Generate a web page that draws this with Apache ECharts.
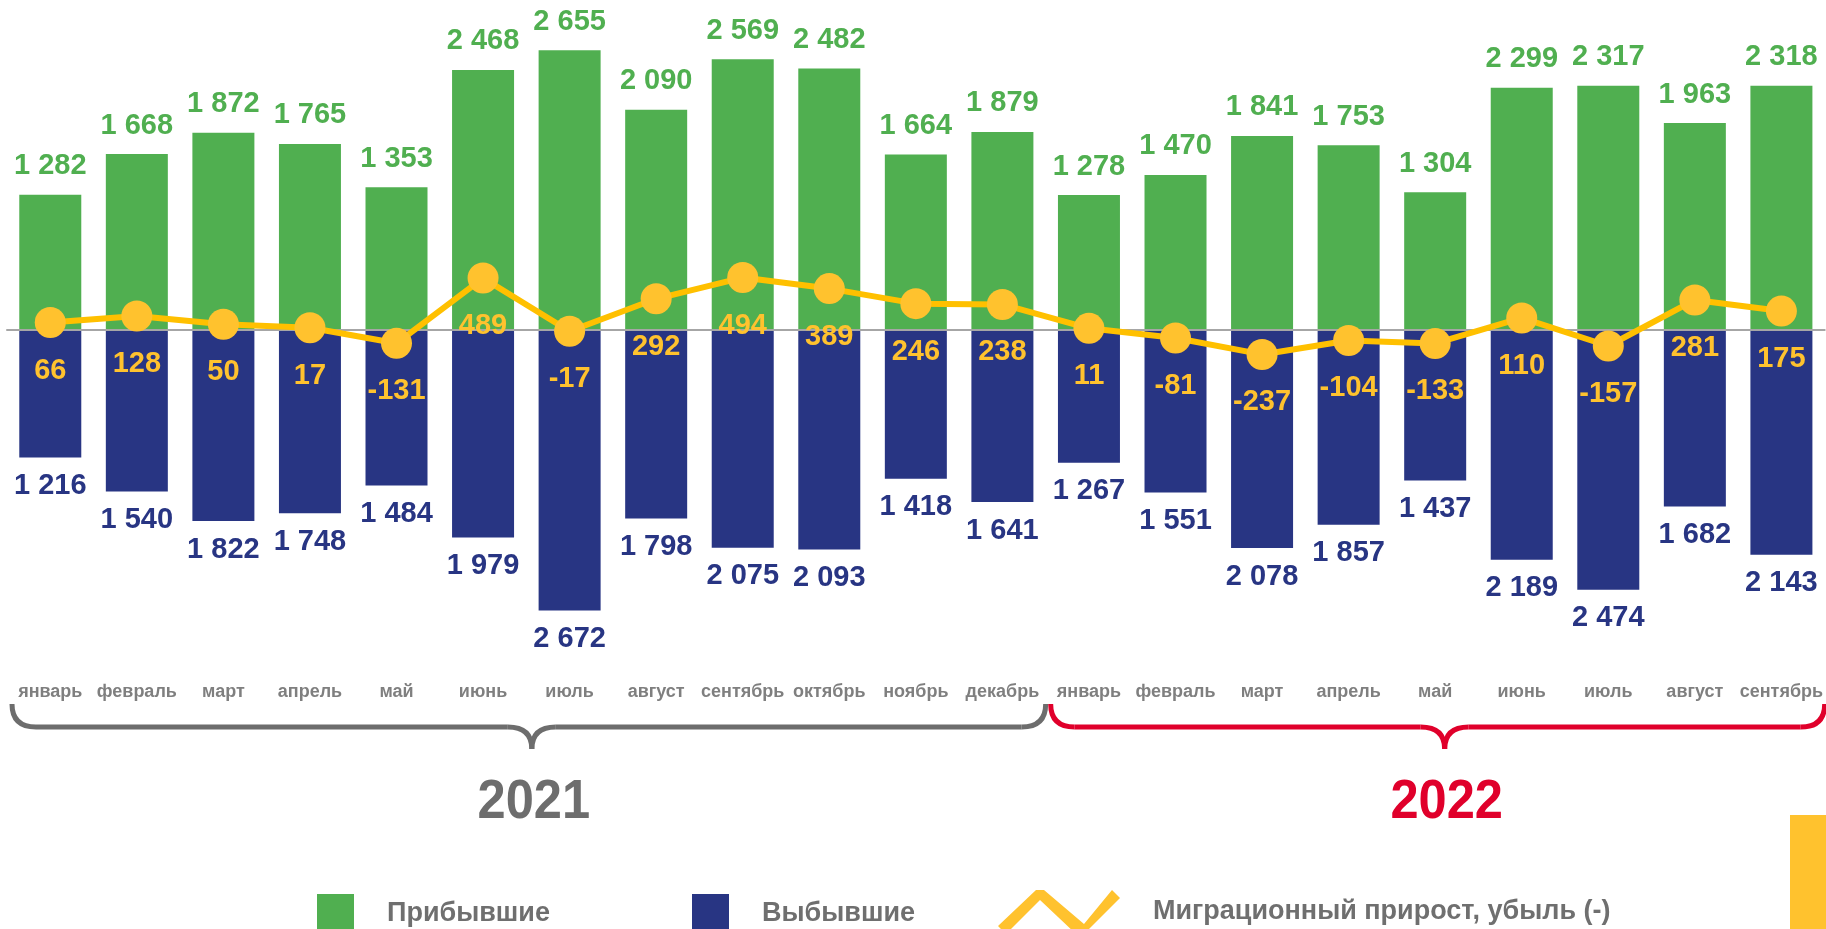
<!DOCTYPE html>
<html>
<head>
<meta charset="utf-8">
<title>Миграция</title>
<script src="https://cdn.jsdelivr.net/npm/echarts@6/dist/echarts.min.js"></script>
<style>
    html, body { margin: 0; padding: 0; background: #fff; }
    #main { width: 1826px; height: 929px; }
</style>
</head>
<body>
<div id="main"></div>
<script>
var months = ['январь', 'февраль', 'март', 'апрель', 'май', 'июнь', 'июль', 'август', 'сентябрь', 'октябрь', 'ноябрь', 'декабрь',
    'январь', 'февраль', 'март', 'апрель', 'май', 'июнь', 'июль', 'август', 'сентябрь'];
var arrived = [1282, 1668, 1872, 1765, 1353, 2468, 2655, 2090, 2569, 2482, 1664, 1879,
    1278, 1470, 1841, 1753, 1304, 2299, 2317, 1963, 2318];
var departed = [1216, 1540, 1822, 1748, 1484, 1979, 2672, 1798, 2075, 2093, 1418, 1641,
    1267, 1551, 2078, 1857, 1437, 2189, 2474, 1682, 2143];
var balance = [66, 128, 50, 17, -131, 489, -17, 292, 494, 389, 246, 238,
    11, -81, -237, -104, -133, 110, -157, 281, 175];
var years = ['2021', '2022'];
var yearSpan = [[0, 11], [12, 20]]; // индексы месяцев каждого года
var names = ['Прибывшие', 'Выбывшие', 'Миграционный прирост, убыль (-)'];

var GREEN = '#50AF50', BLUE = '#283583', YELLOW = '#FFC000', DOT = '#FFC22E';
var FONT = "'Liberation Sans', Arial, sans-serif";
var zigzag = 'path://M0,36 L38,0 L46,0 L86,34 L114,0 L122,8 L86,44 L78,44 L42,10 L8,44 Z';

var chart = echarts.init(document.getElementById('main'));

function fmt(v) {
    var s = String(Math.abs(v)).replace(/\B(?=(\d{3})+(?!\d))/g, ' ');
    return v < 0 ? '-' + s : s;
}

function legendItem(name, icon, left, top, w, h) {
    return {
        data: [{name: name, icon: icon}],
        left: left,
        top: top,
        itemWidth: w,
        itemHeight: h,
        selectedMode: false,
        textStyle: {
            color: '#6F6F6F',
            fontSize: 27,
            fontWeight: 'bold',
            fontFamily: FONT,
            padding: [0, 0, 0, 28]
        }
    };
}

var option = {
    animation: false,
    backgroundColor: '#fff',
    grid: {left: 7, width: 1822, top: 14, height: 631},
    legend: [
        legendItem(names[0], 'rect', 312, 889, 37, 40),
        legendItem(names[1], 'rect', 687, 889, 37, 40),
        legendItem(names[2], zigzag, 993, 885, 122, 44)
    ],
    xAxis: [{
        type: 'category',
        data: months,
        z: 3,
        axisLine: {onZero: true, lineStyle: {color: '#A6A6A6', width: 2}},
        axisTick: {show: false},
        axisLabel: {show: false}
    }, {
        type: 'category',
        data: months,
        position: 'bottom',
        axisLine: {show: false, onZero: false},
        axisTick: {show: false},
        axisLabel: {
            interval: 0,
            margin: 38,
            color: '#7F7F7F',
            fontSize: 18,
            fontWeight: 'bold',
            fontFamily: FONT
        }
    }],
    yAxis: {
        type: 'value',
        min: -3000,
        max: 3000,
        show: false,
        splitLine: {show: false}
    },
    series: [{
        name: names[0],
        type: 'bar',
        stack: 'flow',
        barWidth: 62,
        data: arrived,
        itemStyle: {color: GREEN},
        label: {
            show: true,
            position: 'outside',
            distance: 14,
            formatter: function (p) { return fmt(p.value); },
            color: GREEN,
            fontSize: 29,
            fontWeight: 'bold',
            fontFamily: FONT
        }
    }, {
        name: names[1],
        type: 'bar',
        stack: 'flow',
        barWidth: 62,
        data: departed.map(function (v) { return -v; }),
        itemStyle: {color: BLUE},
        label: {
            show: true,
            position: 'outside',
            distance: 14,
            formatter: function (p) { return fmt(-p.value); },
            color: BLUE,
            fontSize: 29,
            fontWeight: 'bold',
            fontFamily: FONT
        }
    }, {
        name: names[2],
        type: 'line',
        z: 5,
        data: balance,
        symbol: 'circle',
        symbolSize: 31,
        lineStyle: {color: YELLOW, width: 6},
        itemStyle: {color: DOT},
        label: {
            show: true,
            position: 'bottom',
            distance: 18,
            formatter: function (p) { return fmt(p.value); },
            color: DOT,
            fontSize: 29,
            fontWeight: 'bold',
            fontFamily: FONT
        }
    }]
};
chart.setOption(option);

//фигурные скобки и подписи годов под осью
function curve(x1, y1, cx, cy, x2, y2, color) {
    return {
        type: 'bezierCurve',
        shape: {x1: x1, y1: y1, cpx1: cx, cpy1: cy, x2: x2, y2: y2},
        style: {fill: 'none', stroke: color, lineWidth: 5}
    };
}

function segment(x1, x2, y, color) {
    return {
        type: 'line',
        shape: {x1: x1, y1: y, x2: x2, y2: y},
        style: {stroke: color, lineWidth: 5}
    };
}

function drawBraces() {
    var band = chart.convertToPixel({xAxisIndex: 0}, 1) - chart.convertToPixel({xAxisIndex: 0}, 0);
    var colors = ['#6D6D6D', '#E0002B'];
    var yTop = 704, yLine = 727, yTip = 749, r = 24;
    var elements = [];
    years.forEach(function (y, i) {
        var c = colors[i];
        var x1 = chart.convertToPixel({xAxisIndex: 0}, yearSpan[i][0]) - band / 2 + 5;
        var x2 = chart.convertToPixel({xAxisIndex: 0}, yearSpan[i][1]) + band / 2;
        var xm = (x1 + x2) / 2 + 3 + i * 4;
        elements.push(curve(x1, yTop, x1, yLine, x1 + r, yLine, c));
        elements.push(segment(x1 + r, xm - r, yLine, c));
        elements.push(curve(xm - r, yLine, xm, yLine, xm, yTip, c));
        elements.push(curve(xm, yTip, xm, yLine, xm + r, yLine, c));
        elements.push(segment(xm + r, x2 - r, yLine, c));
        elements.push(curve(x2 - r, yLine, x2, yLine, x2, yTop, c));
        elements.push({
            type: 'text',
            x: xm + 2,
            y: 803,
            scaleX: 0.92,
            style: {
                text: y,
                x: 0,
                y: 0,
                textAlign: 'center',
                textVerticalAlign: 'middle',
                fill: c,
                fontSize: 55,
                fontWeight: 'bold',
                fontFamily: FONT
            }
        });
    });
    elements.push({
        type: 'rect',
        shape: {x: 1790, y: 815, width: 40, height: 120},
        style: {fill: DOT}
    });
    chart.setOption({graphic: elements});
}
drawBraces();
</script>
</body>
</html>
